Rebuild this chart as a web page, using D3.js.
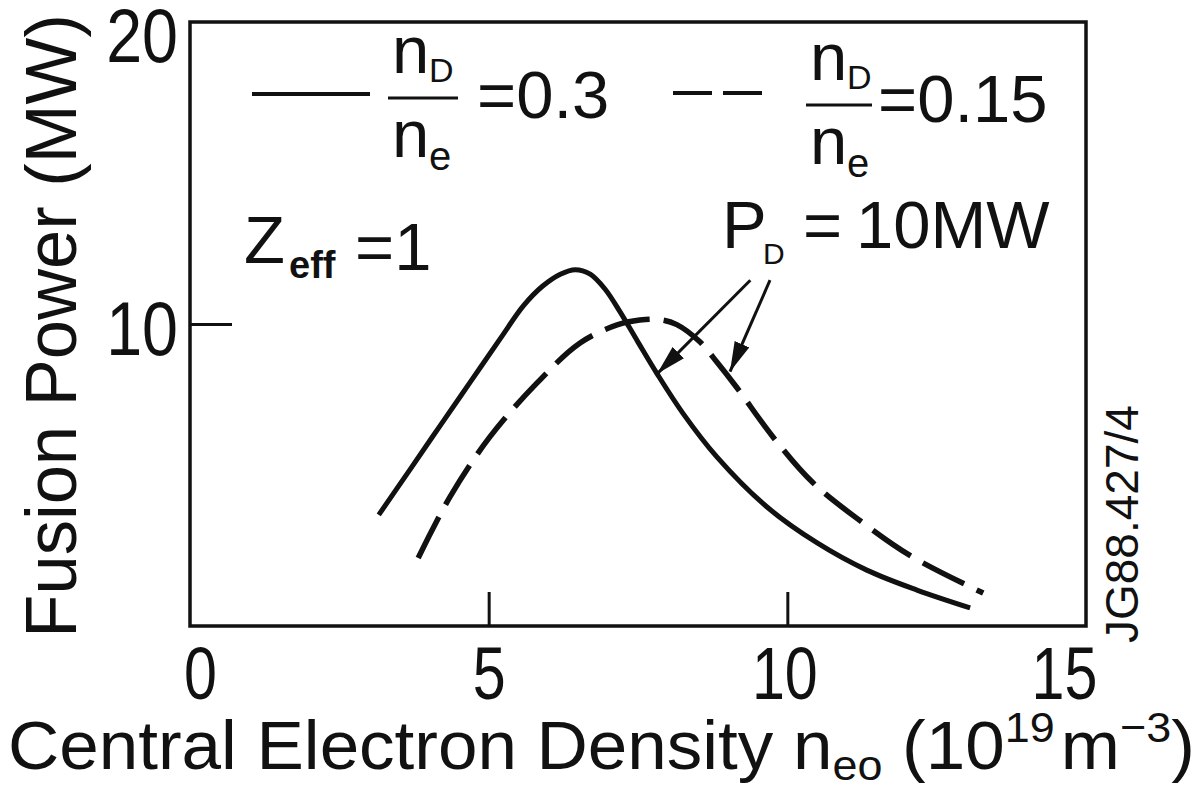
<!DOCTYPE html>
<html>
<head>
<meta charset="utf-8">
<script src="https://cdn.jsdelivr.net/npm/d3@7"></script>
<style>
  html, body { margin: 0; padding: 0; background: #fff; }
  svg { display: block; }
  text { font-family: "Liberation Sans", Arial, Helvetica, sans-serif; fill: #111; }
</style>
</head>
<body>
<svg id="chart" width="1202" height="786"></svg>
<script>
// Axis ticks
const densityTicks = [0, 5, 10, 15];
const densityTickLabels = ["0", "5", "10", "15"];
const powerTicks = [10, 20];
const powerTickLabels = ["10", "20"];

// Fusion power (MW) vs central electron density (1e19 m^-3), Zeff = 1
// n_D/n_e = 0.3 (solid)
const density03 = [3.16, 3.70, 4.20, 4.70, 5.20, 5.58, 5.90, 6.20, 6.45, 6.70, 6.95, 7.20, 7.50, 7.82, 8.25, 8.82, 9.66, 10.50, 11.33, 12.17, 13.06];
const power03   = [3.68, 5.23, 6.67, 8.10, 9.53, 10.60, 11.25, 11.65, 11.80, 11.65, 11.15, 10.40, 9.40, 8.35, 7.05, 5.60, 3.94, 2.75, 1.85, 1.19, 0.60];
// n_D/n_e = 0.15 (dashed)
const density015 = [3.82, 4.35, 5.02, 5.81, 6.53, 7.15, 7.53, 7.85, 8.15, 8.54, 8.82, 9.16, 9.76, 10.43, 11.27, 12.10, 13.28];
const power015   = [2.25, 4.27, 6.26, 8.05, 9.37, 9.97, 10.13, 10.15, 9.98, 9.40, 8.74, 7.88, 6.26, 4.74, 3.41, 2.28, 1.09];

const seriesRatios = ["0.3", "0.15"];

// Points on each curve where P_D = 10 MW, plus the label anchor of the arrows
const pdArrowFrom = [[9.38, 11.45], [9.71, 11.45]];
const pdArrowTo   = [[7.82, 8.35], [9.04, 8.42]];

const svg = d3.select("#chart");
const W = 1202, H = 786;
const plot = { left: 190, right: 1086, top: 22, bottom: 626 };

const x = d3.scaleLinear().domain([0, 15]).range([plot.left, plot.right]);
const y = d3.scaleLinear().domain([0, 20]).range([plot.bottom, plot.top]);

// Narrow the glyphs of plain text nodes (typeset look)
function condense(sel, factor) {
  sel.each(function () {
    const w = this.getComputedTextLength();
    d3.select(this).attr("textLength", w * factor).attr("lengthAdjust", "spacingAndGlyphs");
  });
}

svg.append("rect").attr("width", W).attr("height", H).attr("fill", "#fff");

// Frame
svg.append("rect")
  .attr("x", plot.left).attr("y", plot.top)
  .attr("width", plot.right - plot.left).attr("height", plot.bottom - plot.top)
  .attr("fill", "none").attr("stroke", "#111").attr("stroke-width", 3.5);

// X axis: inward ticks, large labels
const xAxis = svg.append("g")
  .attr("transform", `translate(0,${plot.bottom})`)
  .call(d3.axisBottom(x)
    .tickValues(densityTicks)
    .tickFormat((d, i) => densityTickLabels[i])
    .tickSizeInner(-34).tickSizeOuter(0).tickPadding(20));
xAxis.attr("font-size", null).attr("font-family", null);
xAxis.select(".domain").remove();
xAxis.selectAll(".tick line")
  .attr("stroke", "#111").attr("stroke-width", 3)
  .attr("display", d => (d === 0 || d === 15) ? "none" : null);
xAxis.selectAll(".tick text")
  .style("font-size", "74px").attr("fill", "#111")
  .attr("dx", d => d === 0 ? 10 : d === 15 ? -22 : d === 10 ? -3 : 0)
  .call(condense, 0.8);

// Y axis
const yAxis = svg.append("g")
  .attr("transform", `translate(${plot.left},0)`)
  .call(d3.axisLeft(y)
    .tickValues(powerTicks)
    .tickFormat((d, i) => powerTickLabels[i])
    .tickSizeInner(-42).tickSizeOuter(0).tickPadding(12));
yAxis.attr("font-size", null).attr("font-family", null);
yAxis.select(".domain").remove();
yAxis.selectAll(".tick line")
  .attr("stroke", "#111").attr("stroke-width", 3)
  .attr("display", d => d === 20 ? "none" : null);
yAxis.selectAll(".tick text")
  .style("font-size", "76px").attr("fill", "#111")
  .attr("dy", d => d === 20 ? "0.52em" : "0.4em")
  .call(condense, 0.85);

// Axis titles
svg.append("text")
  .attr("transform", "translate(76,326) rotate(-90)")
  .attr("text-anchor", "middle")
  .style("font-size", "72px")
  .text("Fusion Power (MW)")
  .call(condense, 0.98);

const xtGroup = svg.append("g");
const xt = xtGroup.append("text").attr("x", 0).attr("y", 0).style("font-size", "68px");
xt.append("tspan").text("Central Electron Density n");
xt.append("tspan").attr("dy", 11).style("font-size", "43px").text("eo");
xt.append("tspan").attr("dy", -11).text(" (10");
xt.append("tspan").attr("dy", -27).style("font-size", "43px").text("19");
xt.append("tspan").attr("dy", 27).attr("dx", 6).text("m");
xt.append("tspan").attr("dy", -27).style("font-size", "43px").text("\u22123");
xt.append("tspan").attr("dy", 27).text(")");
{
  const bb = xt.node().getBBox();
  const sx = (1195 - 8) / bb.width;
  xtGroup.attr("transform", `translate(${8 - bb.x * sx},769) scale(${sx},1)`);
}

// Figure reference
svg.append("text")
  .attr("transform", "translate(1138,643) rotate(-90)")
  .style("font-size", "46px")
  .text("JG88.427/4");

// Curves
const line = d3.line()
  .x(d => x(d[0])).y(d => y(d[1]))
  .curve(d3.curveCatmullRom.alpha(0.5));

const solidPts = density03.map((d, i) => [d, power03[i]]);
const dashedPts = density015.map((d, i) => [d, power015[i]]);

svg.append("path")
  .attr("d", line(solidPts))
  .attr("fill", "none").attr("stroke", "#111")
  .attr("stroke-width", 5).attr("stroke-linecap", "butt").attr("stroke-linejoin", "round");

svg.append("path")
  .attr("d", line(dashedPts))
  .attr("fill", "none").attr("stroke", "#111")
  .attr("stroke-width", 5.5).attr("stroke-dasharray", "46,14");

// Arrows pointing at the P_D = 10 MW points
const defs = svg.append("defs");
defs.append("marker")
  .attr("id", "head")
  .attr("viewBox", "0 0 30 16")
  .attr("refX", 30).attr("refY", 8)
  .attr("markerWidth", 30).attr("markerHeight", 16)
  .attr("markerUnits", "userSpaceOnUse")
  .attr("orient", "auto")
  .append("path").attr("d", "M0,0 L30,8 L0,16 Z").attr("fill", "#111");

pdArrowFrom.forEach((from, i) => {
  const to = pdArrowTo[i];
  svg.append("line")
    .attr("x1", x(from[0])).attr("y1", y(from[1]))
    .attr("x2", x(to[0])).attr("y2", y(to[1]))
    .attr("stroke", "#111").attr("stroke-width", 3)
    .attr("marker-end", "url(#head)");
});

// Legend
function fraction(xl, barY, width) {
  const g = svg.append("g");
  const num = g.append("text").attr("x", xl).attr("y", barY - 25).style("font-size", "67px");
  num.append("tspan").text("n");
  num.append("tspan").attr("x", xl + 37).attr("dy", 9).style("font-size", "34px").text("D");
  g.append("line")
    .attr("x1", xl - 4).attr("x2", xl - 4 + width)
    .attr("y1", barY).attr("y2", barY)
    .attr("stroke", "#111").attr("stroke-width", 3);
  const den = g.append("text").attr("x", xl).attr("y", barY + 59).style("font-size", "67px");
  den.append("tspan").text("n");
  den.append("tspan").attr("x", xl + 37).attr("dy", 13).style("font-size", "40px").text("e");
}

svg.append("line")
  .attr("x1", 252).attr("x2", 370).attr("y1", 94).attr("y2", 94)
  .attr("stroke", "#111").attr("stroke-width", 4);
fraction(392, 98, 70);
svg.append("text").attr("x", 477).attr("y", 118).style("font-size", "67px").text("=" + seriesRatios[0]);

svg.append("line")
  .attr("x1", 673).attr("x2", 765).attr("y1", 93).attr("y2", 93)
  .attr("stroke", "#111").attr("stroke-width", 4).attr("stroke-dasharray", "39,11");
fraction(810, 105, 66);
svg.append("text").attr("x", 878).attr("y", 122).style("font-size", "67px").text("=" + seriesRatios[1]);

// Zeff = 1
const zt = svg.append("text").attr("x", 244).attr("y", 263).style("font-size", "67px");
zt.append("tspan").text("Z");
zt.append("tspan").attr("x", 289).attr("dy", 15).style("font-size", "38px").style("font-weight", "bold").text("eff");
zt.append("tspan").attr("x", 355).attr("dy", -8).text("=1");

// P_D = 10 MW
const pt = svg.append("text").attr("x", 722).attr("y", 248).style("font-size", "67px");
pt.append("tspan").text("P");
pt.append("tspan").attr("x", 763).attr("dy", 16).style("font-size", "30px").text("D");
pt.append("tspan").attr("x", 803).attr("dy", -16).text("=");
pt.append("tspan").attr("x", 856).text("10MW");
</script>
</body>
</html>
